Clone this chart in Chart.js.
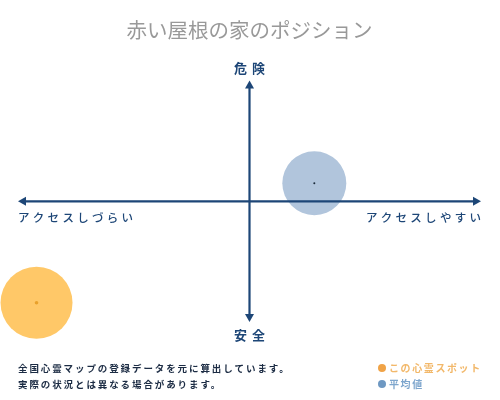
<!DOCTYPE html>
<html>
<head>
<meta charset="utf-8">
<script src="https://cdn.jsdelivr.net/npm/chart.js@4/dist/chart.umd.min.js"></script>
<style>
  html, body { margin: 0; padding: 0; background: #fff; }
  #wrap { width: 500px; height: 400px; }
</style>
</head>
<body>
<div id="wrap"><canvas id="myChart" width="500" height="400"></canvas></div>
<script>
// data (axis range -100..100, r in px)
const seriesNames = ['この心霊スポット', '平均値'];
const spotPoint = [{ x: -92, y: -84, r: 36 }];
const averagePoint = [{ x: 28, y: 15, r: 32 }];
const axisLabels = { top: '危険', bottom: '安全', left: 'アクセスしづらい', right: 'アクセスしやすい' };
const notes = ['全国心霊マップの登録データを元に算出しています。', '実際の状況とは異なる場合があります。'];

const navy = '#1d4677';
const font = '"Noto Sans CJK JP", sans-serif';

const axesPlugin = {
  id: 'crossAxes',
  afterDatasetsDraw(chart) {
    const ctx = chart.ctx;
    const x = chart.scales.x, y = chart.scales.y;
    const cx = x.getPixelForValue(0), cy = y.getPixelForValue(0);
    const l = x.getPixelForValue(-100), r = x.getPixelForValue(100);
    const t = y.getPixelForValue(100), b = y.getPixelForValue(-100);

    // centre dots of bubbles
    const dotColors = ['#e9a12b', '#1a2a3a'];
    chart.data.datasets.forEach((ds, i) => {
      chart.getDatasetMeta(i).data.forEach(el => {
        ctx.beginPath();
        ctx.fillStyle = dotColors[i];
        ctx.arc(el.x, el.y, i === 0 ? 1.8 : 1, 0, Math.PI * 2);
        ctx.fill();
      });
    });

    ctx.save();
    ctx.strokeStyle = navy;
    ctx.fillStyle = navy;
    ctx.lineWidth = 2.2;
    ctx.beginPath();
    ctx.moveTo(l + 4, cy); ctx.lineTo(r - 4, cy);
    ctx.moveTo(cx, t + 4); ctx.lineTo(cx, b - 4);
    ctx.stroke();
    const head = (px, py, dx, dy) => {
      const s = 8, w = 4.5;
      ctx.beginPath();
      ctx.moveTo(px, py);
      ctx.lineTo(px - dx * s - dy * w, py - dy * s - dx * w);
      ctx.lineTo(px - dx * s + dy * w, py - dy * s + dx * w);
      ctx.closePath();
      ctx.fill();
    };
    head(l, cy, -1, 0); head(r, cy, 1, 0);
    head(cx, t, 0, -1); head(cx, b, 0, 1);

    ctx.textBaseline = 'middle';
    ctx.font = 'bold 13px ' + font;
    ctx.letterSpacing = '5px';
    ctx.textAlign = 'center';
    ctx.fillText(axisLabels.top, cx + 2.5, t - 13);
    ctx.fillText(axisLabels.bottom, cx + 2.5, b + 13);
    ctx.font = '500 11.5px ' + font;
    ctx.letterSpacing = '3.3px';
    ctx.textAlign = 'left';
    ctx.fillText(axisLabels.left, l, cy + 16);
    ctx.textAlign = 'right';
    ctx.fillText(axisLabels.right, r + 3.3, cy + 16);

    // footnote
    ctx.fillStyle = '#1c2c44';
    ctx.font = 'bold 9.5px ' + font;
    ctx.letterSpacing = '1.9px';
    ctx.textAlign = 'left';
    ctx.fillText(notes[0], 18, 368);
    ctx.fillText(notes[1], 18, 384);

    // legend
    const legendColors = [['#f0a347', '#f2b86a'], ['#6e98c2', '#7ea6cd']];
    seriesNames.forEach((name, i) => {
      const ly = 368 + i * 16;
      ctx.beginPath();
      ctx.fillStyle = legendColors[i][0];
      ctx.arc(382, ly, 4, 0, Math.PI * 2);
      ctx.fill();
      ctx.fillStyle = legendColors[i][1];
      ctx.font = 'bold 10px ' + font;
      ctx.letterSpacing = '1.6px';
      ctx.fillText(name, 389, ly);
    });
    ctx.restore();
  }
};

new Chart(document.getElementById('myChart').getContext('2d'), {
  type: 'bubble',
  data: {
    datasets: [{
      label: seriesNames[0],
      data: spotPoint,
      backgroundColor: 'rgba(255, 200, 104, 1)',
      borderWidth: 0,
      clip: false
    }, {
      label: seriesNames[1],
      data: averagePoint,
      backgroundColor: 'rgba(177, 197, 220, 1)',
      borderWidth: 0,
      clip: false
    }]
  },
  options: {
    responsive: false,
    animation: false,
    events: [],
    layout: { autoPadding: false, padding: { left: 18, right: 19, top: 0, bottom: 78 } },
    scales: {
      x: { min: -100, max: 100, display: false },
      y: { min: -100, max: 100, display: false }
    },
    plugins: {
      legend: { display: false },
      tooltip: { enabled: false },
      title: {
        display: true,
        text: '赤い屋根の家のポジション',
        color: '#999999',
        font: { family: font, size: 20.5, weight: 'normal' },
        padding: { top: 18, bottom: 38 }
      }
    }
  },
  plugins: [axesPlugin]
});
</script>
</body>
</html>
